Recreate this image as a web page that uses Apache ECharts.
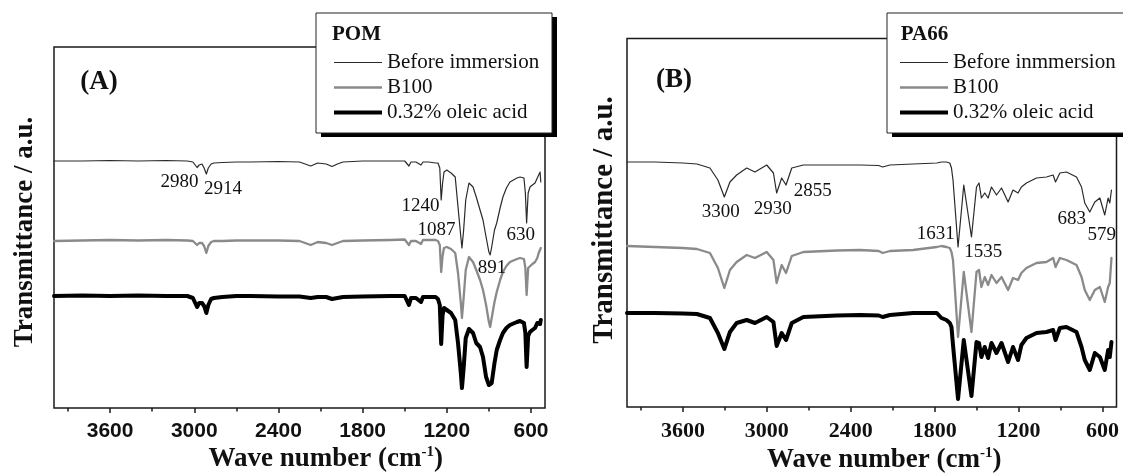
<!DOCTYPE html>
<html><head><meta charset="utf-8">
<script src="https://cdn.jsdelivr.net/npm/echarts@6/dist/echarts.min.js"></script>
<style>html,body{margin:0;padding:0;background:#fff}#c{width:1123px;height:475px}</style>
</head><body><div id="c"></div>
<script>
// ---------- DATA (transmittance, arbitrary units) ----------
const pomWavenumber = [4000,3800,3600,3400,3200,3050,3010,2980,2965,2945,2930,2914,2900,2880,2860,2800,2700,2600,2400,2250,2170,2120,2060,2018,1980,1940,1800,1600,1500,1470,1455,1420,1384,1370,1330,1280,1263,1250,1240,1230,1220,1200,1170,1140,1120,1100,1092,1080,1065,1042,1013,990,963,942,920,900,891,880,860,844,820,800,775,750,700,678,650,640,631,620,607,590,571,555,545,535,530];
const pomBefore = [247,247,247.5,247,247.5,247,246,240.5,243,244,240,234,240,244,245,245.5,246,246,246.5,246,242,245,244,241.5,244,246,247,247,247,242,246,246,243,246,246,245,245,240,208,225,236,238,235,231,201,171,160,178,208,225,221,211,198,188,171,156,153,161,178,185,200,211,220,226,230,231,230,215,185,215,221,223,225,230,233,236,226];
const pomB100 = [167,167.5,168,167.5,168,167.5,167,163,165,165,162,155,162,166,167,167,167.5,167.5,167.5,167,163,166,165,163,165,167,167.5,168,168.5,163,167,167,164,168,168,168,167,163,136,152,160,161,159,155,135,105,90,110,138,151,146,138,128,118,103,86,81,90,106,116,128,136,142,146,149,150,149,140,113,140,142,144,146,150,155,156,160];
const pomOleic = [112,112.5,112,112.5,112,112,110,101,105,105,102,95,103,109,110,111,112,112,111.5,111.5,110,111,111,109,110,111,111.5,112,112,103,110,110,106,111,111,111,109,103,64,93,100,98,95,88,65,35,20,40,70,79,75,65,61,51,31,23,22,25,45,58,68,75,80,83,86,87,85,75,41,72,76,78,80,85,87,84,88];

const pa66Wavenumber = [4000,3800,3600,3500,3407,3350,3304,3264,3216,3144,3085,3001,2953,2930,2894,2863,2822,2739,2500,2334,2200,2172,2120,1955,1785,1752,1716,1692,1680,1669,1633,1592,1537,1501,1483,1466,1442,1418,1394,1358,1322,1275,1240,1204,1180,1144,1072,1001,953,936,905,858,786,750,727,691,655,619,584,560,548,536];
const pa66Before = [245,245,244,243,239,227,210,225,232,239,235,242,234,214,229,222,239,242,242,242,241.5,240,242,243,244,245,245,244,239,227,160,222,170,220,224,209,214,209,220,212,219,205,217,214,220,224,229,230,232,225,234,235,230,220,204,195,205,209,192,209,204,217];
const pa66B100 = [161,160,159,158,154,139,119,137,145,152,149,155,147,124,142,134,151,155,156.5,157,156,154,156,157,160,161,160,159,155,147,70,135,75,135,137,120,130,122,132,124,130,117,129,127,134,139,144,145,149,140,149,147,142,130,117,107,117,120,105,120,124,149];
const pa66Oleic = [94,94,93.5,93,89,74,58,75,84,87,84,90,85,61,74,67,84,90,91.5,92,91.5,90,92,94,94,89,87,84,80,62,8,67,11,65,64,50,60,49,64,54,64,45,60,47,62,69,74,75,77,67,79,80,75,60,47,37,54,50,37,57,50,65];

const xTickLabels = [600,1200,1800,2400,3000,3600];
const xMinorTicks = [900,1500,2100,2700,3300,3900];
const pomNames = ['Before immersion','B100','0.32% oleic acid'];
const pa66Names = ['Before inmmersion','B100','0.32% oleic acid'];
const pomPeaks = ['2980','2914','1240','1087','891','630'];
const pa66Peaks = ['3300','2930','2855','1631','1535','683','579'];

// ---------- LAYOUT / STYLE ----------
const SERIF = "'Liberation Serif','Times New Roman',serif";
const SANS = "'Liberation Sans',Arial,sans-serif";
const INK = '#111';
const panels = [
  {left:54, top:47, width:491, height:361, ymax:361, tickFont:SANS, tickSize:21, margin:13},
  {left:627, top:38.5, width:489.5, height:368.5, ymax:368.5, tickFont:SERIF, tickSize:22, margin:13}
];
const styles = [
  {color:'#2a2a2a', width:1.2},
  {color:'#8a8a8a', width:2.3},
  {color:'#000000', width:4}
];
const pomPeakPos = [[179.5,182.5],[223,189],[420.5,206.5],[436.6,230],[492,268.5],[520.7,235]];
const pa66PeakPos = [[720.8,212.5],[772.8,209],[812.8,190.7],[935.8,234],[983.3,252.5],[1071.7,219],[1101.7,235]];

const grids = panels.map(p => ({left:p.left, top:p.top, width:p.width, height:p.height, show:true,
  borderColor:'#1a1a1a', borderWidth:1.5, backgroundColor:'transparent', containLabel:false}));

const xAxes = [];
panels.forEach((p, gi) => {
  xAxes.push({type:'value', gridIndex:gi, min:500, max:4000, inverse:true, position:'bottom',
    axisLine:{show:false}, splitLine:{show:false},
    axisTick:{show:true, inside:false, length:5, customValues:xTickLabels, lineStyle:{color:'#1a1a1a', width:1.5}},
    axisLabel:{show:true, customValues:xTickLabels, margin:p.margin, formatter:v => String(v),
      fontFamily:p.tickFont, fontWeight:'bold', fontSize:p.tickSize, color:INK}});
  xAxes.push({type:'value', gridIndex:gi, min:500, max:4000, inverse:true, position:'bottom',
    axisLine:{show:false}, splitLine:{show:false},
    axisTick:{show:true, inside:false, length:3.5, customValues:xMinorTicks, lineStyle:{color:'#1a1a1a', width:1.5}},
    axisLabel:{show:false}});
});
const yAxes = panels.map((p, gi) => ({type:'value', gridIndex:gi, min:0, max:p.ymax, show:false}));

function mk(name, wn, vals, gi, k) {
  return {type:'line', name, xAxisIndex:gi*2, yAxisIndex:gi, symbol:'none', silent:true,
    data: wn.map((w, i) => [w, vals[i]]),
    lineStyle:{color:styles[k].color, width:styles[k].width, join:'round', cap:'round'},
    itemStyle:{color:styles[k].color}, z:3+k};
}
const series = [
  mk(pomNames[0], pomWavenumber, pomBefore, 0, 0),
  mk(pomNames[1], pomWavenumber, pomB100, 0, 1),
  mk(pomNames[2], pomWavenumber, pomOleic, 0, 2),
  mk(pa66Names[0], pa66Wavenumber, pa66Before, 1, 0),
  mk(pa66Names[1], pa66Wavenumber, pa66B100, 1, 1),
  mk(pa66Names[2], pa66Wavenumber, pa66Oleic, 1, 2)
];

function legendCfg(names, left) {
  return {data:names.map((n, k) => ({name:n, lineStyle:{color:styles[k].color, width:styles[k].width, cap:'butt'}})),
    orient:'vertical', left:left, top:52, padding:0, itemWidth:48, itemHeight:14,
    itemGap:4, selectedMode:false, z:20, itemStyle:{opacity:0, borderWidth:0},
    textStyle:{fontFamily:SERIF, fontSize:21, color:INK, lineHeight:21}};
}

const graphic = [];
function box(x, y, w, h) {
  graphic.push({type:'rect', z:10, shape:{x:x+5, y:y+4, width:w, height:h}, style:{fill:'#000'}, silent:true});
  graphic.push({type:'rect', z:11, shape:{x:x, y:y, width:w, height:h}, style:{fill:'#fff', stroke:'#222', lineWidth:1}, silent:true});
}
box(316, 13, 236, 120);
box(887, 13, 246, 120);
function txt(t, x, y, font, size, weight, extra) {
  graphic.push(Object.assign({type:'text', z:30, x:x, y:y, silent:true,
    style:{text:t, fontFamily:font, fontSize:size, fontWeight:weight, fill:INK, align:'center', verticalAlign:'middle'}}, extra||{}));
}
txt('POM', 356.5, 35, SERIF, 21, 'bold');
txt('PA66', 924.5, 35, SERIF, 21, 'bold');
txt('(A)', 99, 82, SERIF, 27, 'bold');
txt('(B)', 674, 80, SERIF, 27, 'bold');
pomPeaks.forEach((t, i) => txt(t, pomPeakPos[i][0], pomPeakPos[i][1], SERIF, 19, 'normal'));
pa66Peaks.forEach((t, i) => txt(t, pa66PeakPos[i][0], pa66PeakPos[i][1], SERIF, 19, 'normal'));
function ytitle(x, y, size) {
  graphic.push({type:'text', z:30, x:x, y:y, rotation:Math.PI/2, silent:true,
    style:{text:'Transmittance / a.u.', fontFamily:SERIF, fontSize:size, fontWeight:'bold', fill:INK, align:'center', verticalAlign:'middle'}});
}
ytitle(25, 232, 27);
ytitle(605, 220, 29);
function xtitle(x, y) {
  graphic.push({type:'text', z:30, x:x, y:y, silent:true,
    style:{text:'{a|Wave number (cm}{s|-1}{a|)}', align:'center', verticalAlign:'middle', fill:INK,
      rich:{a:{fontFamily:SERIF, fontSize:27, fontWeight:'bold', fill:INK, lineHeight:28, verticalAlign:'bottom'},
            s:{fontFamily:SERIF, fontSize:15, fontWeight:'bold', fill:INK, lineHeight:28, verticalAlign:'top'}}}});
}
xtitle(325.8, 458.5);
xtitle(884.2, 459.5);

const chart = echarts.init(document.getElementById('c'), null, {renderer:'canvas'});
chart.setOption({
  animation:false, backgroundColor:'#ffffff',
  grid:grids, xAxis:xAxes, yAxis:yAxes, series:series,
  legend:[legendCfg(pomNames, 332), legendCfg(pa66Names, 898)],
  graphic:graphic
});
</script></body></html>
